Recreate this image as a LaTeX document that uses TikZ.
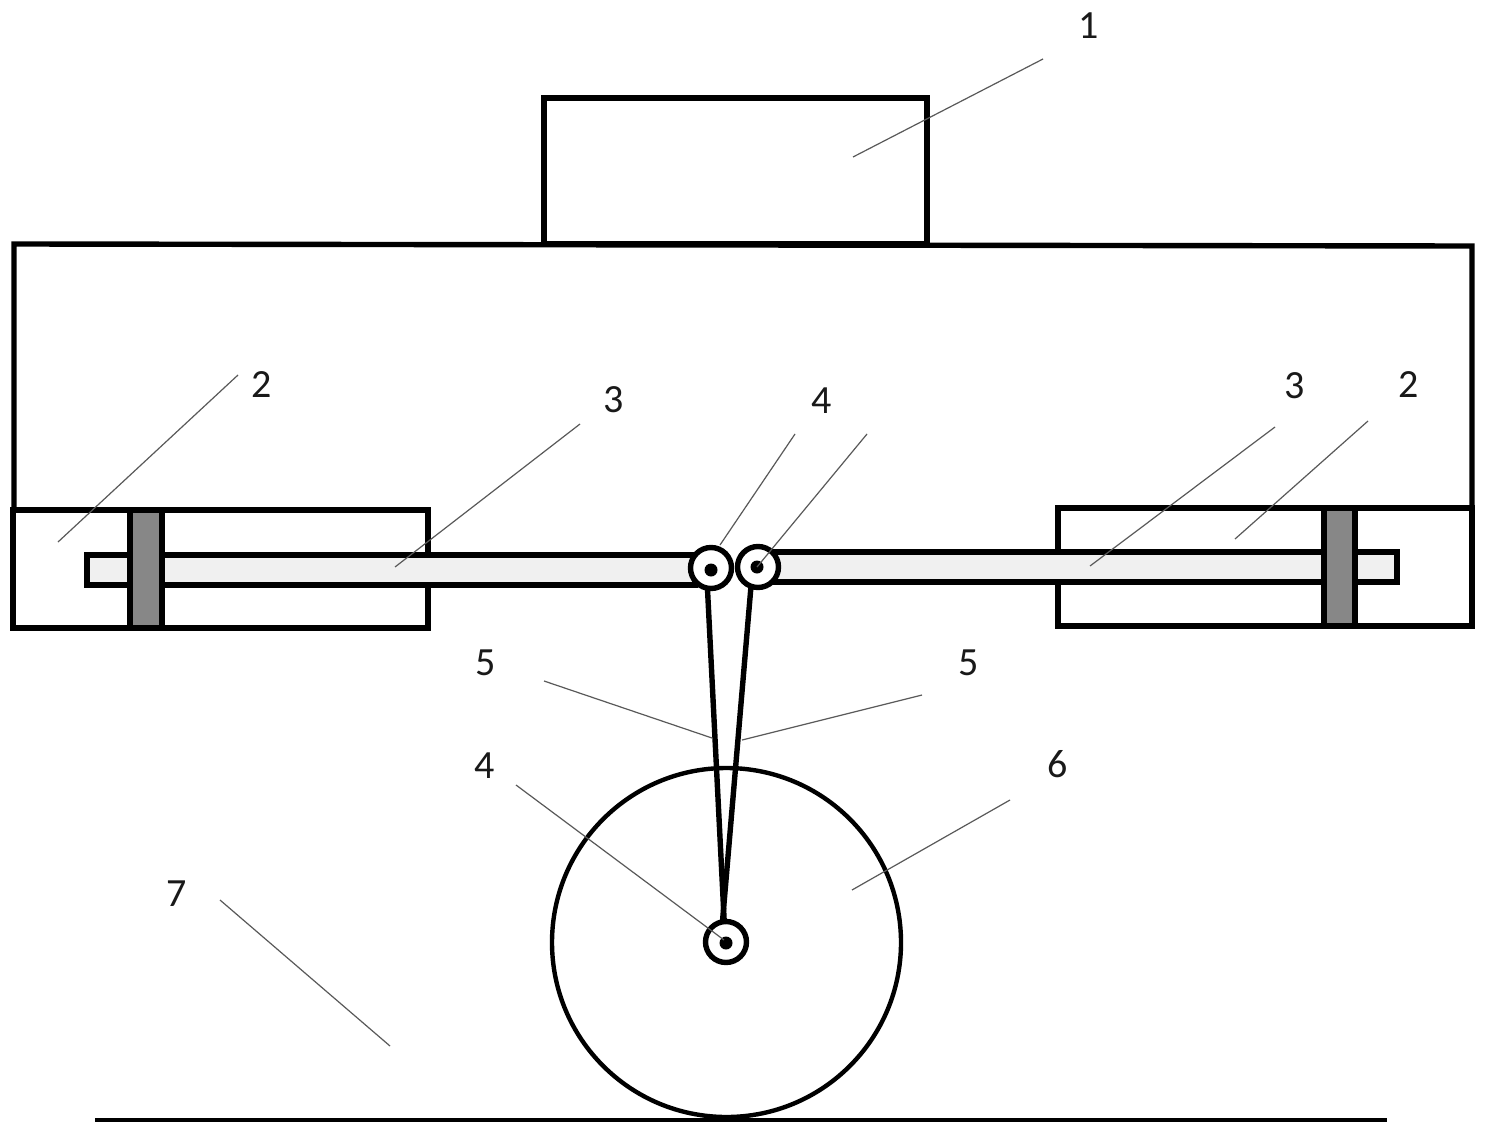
\documentclass[tikz,border=0pt]{standalone}
\usepackage{fontspec}
\setmainfont{Carlito}
\tikzset{
  x=0.5pt,y=-0.5pt,
  part/.style={draw=black,line width=2.7pt,rectangle,inner sep=0pt,outer sep=0pt},
  rodbar/.style={part,fill=black!6},
  pistonbar/.style={part,fill=black!47},
  joint/.style={draw=black,line width=2.7pt,circle,fill=white,inner sep=0pt,outer sep=0pt,minimum size=20.5pt},
  axis/.style={fill=black,circle,inner sep=0pt,minimum size=6.5pt},
  link/.style={draw=black,line width=2.7pt},
  leader/.style={draw=black!65,line width=0.6pt},
  num/.style={font=\fontsize{20}{20}\selectfont,text=black!90,inner sep=0pt}
}
\begin{document}
\begin{tikzpicture}
\useasboundingbox[fill=white] (0,0) rectangle (1488,1129);
% body
\node[part,minimum width=191.5pt,minimum height=73pt] (top) at (735.5,171) {};
\draw[link] (14,510) -- (14,244) -- (1472,246) -- (1472,508);
% cylinders
\node[part,minimum width=207.5pt,minimum height=59pt] (cylL) at (220.5,569) {};
\node[part,minimum width=207pt,minimum height=59pt] (cylR) at (1265,567) {};
% rods
\node[rodbar,minimum width=304pt,minimum height=15pt] (rodL) at (391,570) {};
\node[rodbar,minimum width=311pt,minimum height=15pt] (rodR) at (1086,567) {};
% pistons
\node[pistonbar,minimum width=16pt,minimum height=59pt] (pisL) at (146,569) {};
\node[pistonbar,minimum width=15.5pt,minimum height=59pt] (pisR) at (1339.5,567) {};
% wheel and ground
\node[draw=black,line width=2.2pt,circle,inner sep=0pt,minimum size=174.5pt] (wheel) at (726.5,942.5) {};
\coordinate (gndA) at (95,1120);
\coordinate (gndB) at (1387,1120);
\draw[link,line width=2pt] (gndA) -- (gndB);
% joints
\node[joint] (jL) at (711,568) {};
\node[joint] (jR) at (758,567) {};
\node[joint] (jW) at (726,942) {};
\node[axis] (aL) at (711,570) {};
\node[axis] (aR) at (757,567) {};
\node[axis] (aW) at (726,943) {};
% links
\draw[link] (jL.260) -- (jW.95);
\draw[link] (jR.250) -- (jW.100);
% numerals
\node[num] (n1) at (1089,26) {1};
\node[num] (n2a) at (262,385) {2};
\node[num] (n3a) at (614,400) {3};
\node[num] (n4a) at (822,401) {4};
\node[num] (n3b) at (1295,386) {3};
\node[num] (n2b) at (1409,385) {2};
\node[num] (n5a) at (486,663) {5};
\node[num] (n5b) at (969,663) {5};
\node[num] (n4b) at (485,766) {4};
\node[num] (n6) at (1058,764) {6};
\node[num] (n7) at (177,894) {7};
% leaders
\coordinate (l1a) at (1043,59);   \coordinate (l1b) at (853,157);
\coordinate (l2a) at (238,375);   \coordinate (l2b) at (58,542);
\coordinate (l3a) at (580,424);   \coordinate (l3b) at (395,567);
\coordinate (l4a) at (795,434);   \coordinate (l4b) at (720,545);
\coordinate (l4c) at (867,434);   \coordinate (l4d) at (757,567);
\coordinate (l3c) at (1275,427);  \coordinate (l3d) at (1090,566);
\coordinate (l2c) at (1368,421);  \coordinate (l2d) at (1235,539);
\coordinate (l5a) at (544,681);   \coordinate (l5b) at (712,738);
\coordinate (l5c) at (922,695);   \coordinate (l5d) at (742,740);
\coordinate (l4e) at (516,785);   \coordinate (l4f) at (724,940);
\coordinate (l6a) at (1010,800);  \coordinate (l6b) at (852,890);
\coordinate (l7a) at (220,900);   \coordinate (l7b) at (390,1046);
\foreach \p/\q in {l1a/l1b,l2a/l2b,l3a/l3b,l4a/l4b,l4c/l4d,l3c/l3d,l2c/l2d,l5a/l5b,l5c/l5d,l4e/l4f,l6a/l6b,l7a/l7b}
  \draw[leader] (\p) -- (\q);
\end{tikzpicture}
\end{document}
